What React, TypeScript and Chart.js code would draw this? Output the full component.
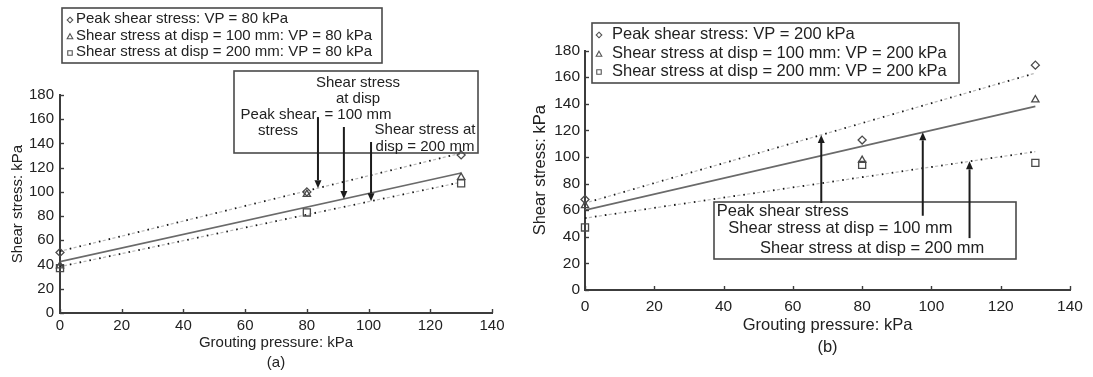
import React, { useEffect, useRef } from "react";
import { Chart, registerables } from "chart.js";

Chart.register(...registerables);

const FONT = "'Liberation Sans', Arial, Helvetica, sans-serif";
const INK = "#222222";
const AXIS = "#3c3c3c";

// Grouting pressure (kPa) at which each test was run
const pressure = [0, 80, 130];

// (a) vertical pressure VP = 80 kPa
const peakA = [50, 100, 130.5];
const disp100A = [39, 98, 112];
const disp200A = [37, 83, 107];

// (b) vertical pressure VP = 200 kPa
const peakB = [68, 112.7, 169];
const disp100B = [63.5, 97.5, 143];
const disp200B = [47, 94, 95.5];

// Trend lines, given by their values at the two ends of the pressure range
const fitX = [0, 130];
const peakFitA = [51, 132];
const disp100FitA = [42.4, 115.6];
const disp200FitA = [38.3, 108];
const peakFitB = [65.3, 163];
const disp100FitB = [60, 138];
const disp200FitB = [54, 104];

// Axis ranges
const xRange = [0, 140];
const yRange = [0, 180];
const xStep = 20;
const yStep = 20;

const legendA = [
  "Peak shear stress: VP = 80 kPa",
  "Shear stress at disp = 100 mm: VP = 80 kPa",
  "Shear stress at disp = 200 mm: VP = 80 kPa",
];
const legendB = [
  "Peak shear stress: VP = 200 kPa",
  "Shear stress at disp = 100 mm: VP = 200 kPa",
  "Shear stress at disp = 200 mm: VP = 200 kPa",
];

// Call-out arrows: pressure where each arrow sits and the stress where its tail starts
const arrowXA = [83.6, 92, 100.8];
const arrowTailA = [161.8, 153.6, 141.2];
const arrowXB = [68.2, 97.5, 111];
const arrowTailB = [65.4, 55.8, 39];

const xTitle = "Grouting pressure: kPa";
const yTitle = "Shear stress: kPa";

type Marker = "diamond" | "triangle" | "square";
type TextItem = { s: string; x: number; y: number; align: CanvasTextAlign };

type PanelSpec = {
  left: number;
  width: number;
  height: number;
  area: { left: number; top: number; right: number; bottom: number };
  tickSize: number;
  tickPadX: number;
  tickPadY: number;
  titleSize: number;
  xTitleY: number;
  captionY: number;
  caption: string;
  yTitleX: number;
  series: number[][];
  fits: number[][];
  legend: string[];
  legendBox: { x: number; y: number; w: number; h: number };
  legendMarkerX: number;
  legendTextX: number;
  legendRows: number[];
  legendSize: number;
  noteBox: { x: number; y: number; w: number; h: number };
  notes: TextItem[];
  noteSize: number;
  arrowX: number[];
  arrowTail: number[];
  arrowUp: boolean;
};

const markers: Marker[] = ["diamond", "triangle", "square"];
const chartStyles = ["rectRot", "triangle", "rect"];
const markerRadius = [4, 4.2, 5];

function fitAt(fit: number[], x: number) {
  const t = (x - fitX[0]) / (fitX[1] - fitX[0]);
  return fit[0] + (fit[1] - fit[0]) * t;
}

function lineSets(fit: number[], solid: boolean) {
  const data = fitX.map((x, i) => ({ x, y: fit[i] }));
  if (solid) {
    return [
      { data, showLine: true, pointRadius: 0, borderColor: "#6a6a6a", borderWidth: 1.6, order: 4 },
    ];
  }
  return [
    {
      data,
      showLine: true,
      pointRadius: 0,
      borderColor: "#b8b8b8",
      borderWidth: 1.2,
      borderDash: [3, 7],
      borderDashOffset: -4,
      order: 5,
    },
    {
      data,
      showLine: true,
      pointRadius: 0,
      borderColor: "#151515",
      borderWidth: 1.8,
      borderDash: [1.6, 8.4],
      order: 3,
    },
  ];
}

function markerSet(label: string, ys: number[], k: number) {
  return {
    label,
    data: pressure.map((x, i) => ({ x, y: ys[i] })),
    showLine: false,
    pointStyle: chartStyles[k],
    pointRadius: markerRadius[k],
    pointBorderWidth: 1.3,
    pointBorderColor: "#4a4a4a",
    pointBackgroundColor: "rgba(255,255,255,0)",
    clip: false,
    order: 1,
  };
}

function drawMarker(ctx: CanvasRenderingContext2D, m: Marker, x: number, y: number, r: number) {
  ctx.beginPath();
  if (m === "diamond") {
    ctx.moveTo(x, y - r);
    ctx.lineTo(x + r, y);
    ctx.lineTo(x, y + r);
    ctx.lineTo(x - r, y);
    ctx.closePath();
  } else if (m === "triangle") {
    ctx.moveTo(x, y - r);
    ctx.lineTo(x + r, y + r * 0.8);
    ctx.lineTo(x - r, y + r * 0.8);
    ctx.closePath();
  } else {
    ctx.rect(x - r * 0.8, y - r * 0.8, r * 1.6, r * 1.6);
  }
  ctx.stroke();
}

function drawText(ctx: CanvasRenderingContext2D, s: string, x: number, y: number, size: number, align: CanvasTextAlign) {
  ctx.font = `${size}px ${FONT}`;
  ctx.fillStyle = INK;
  ctx.textAlign = align;
  ctx.textBaseline = "middle";
  ctx.fillText(s, x, y);
}

function drawArrow(ctx: CanvasRenderingContext2D, x: number, yTail: number, yTip: number) {
  const dir = yTip > yTail ? 1 : -1;
  const head = 8;
  ctx.strokeStyle = "#1c1c1c";
  ctx.fillStyle = "#1c1c1c";
  ctx.lineWidth = 2;
  ctx.beginPath();
  ctx.moveTo(x, yTail);
  ctx.lineTo(x, yTip - dir * head);
  ctx.stroke();
  ctx.beginPath();
  ctx.moveTo(x, yTip);
  ctx.lineTo(x - 3.5, yTip - dir * head);
  ctx.lineTo(x + 3.5, yTip - dir * head);
  ctx.closePath();
  ctx.fill();
}

function decorPlugin(p: PanelSpec) {
  return {
    id: "panelDecor",
    afterDraw(chart: any) {
      const ctx: CanvasRenderingContext2D = chart.ctx;
      const xs = chart.scales.x;
      const ys = chart.scales.y;
      const a = chart.chartArea;
      ctx.save();

      // inward tick marks
      ctx.strokeStyle = AXIS;
      ctx.lineWidth = 1.4;
      xs.ticks.forEach((t: any) => {
        const px = Math.round(xs.getPixelForValue(t.value)) + 0.5;
        ctx.beginPath();
        ctx.moveTo(px, a.bottom);
        ctx.lineTo(px, a.bottom - 4);
        ctx.stroke();
      });
      ys.ticks.forEach((t: any) => {
        const py = Math.round(ys.getPixelForValue(t.value)) + 0.5;
        ctx.beginPath();
        ctx.moveTo(a.left, py);
        ctx.lineTo(a.left + 4, py);
        ctx.stroke();
      });

      // axis titles and panel caption
      const cx = (a.left + a.right) / 2;
      drawText(ctx, xTitle, cx, p.xTitleY, p.titleSize, "center");
      drawText(ctx, p.caption, cx, p.captionY, p.titleSize, "center");
      ctx.save();
      ctx.translate(p.yTitleX, (a.top + a.bottom) / 2);
      ctx.rotate(-Math.PI / 2);
      drawText(ctx, yTitle, 0, 0, p.titleSize, "center");
      ctx.restore();

      // legend
      const lb = p.legendBox;
      ctx.fillStyle = "#ffffff";
      ctx.fillRect(lb.x, lb.y, lb.w, lb.h);
      ctx.strokeStyle = "#4a4a4a";
      ctx.lineWidth = 1.6;
      ctx.strokeRect(lb.x, lb.y, lb.w, lb.h);
      p.legend.forEach((label, i) => {
        ctx.strokeStyle = "#555555";
        ctx.lineWidth = 1.1;
        drawMarker(ctx, markers[i], p.legendMarkerX, p.legendRows[i] + 1, 2.8);
        drawText(ctx, label, p.legendTextX, p.legendRows[i], p.legendSize, "left");
      });

      // call-out box with its labels
      const nb = p.noteBox;
      ctx.strokeStyle = "#4a4a4a";
      ctx.lineWidth = 1.6;
      ctx.strokeRect(nb.x, nb.y, nb.w, nb.h);
      p.notes.forEach((n) => drawText(ctx, n.s, n.x, n.y, p.noteSize, n.align));

      // arrows from the labels to the trend lines
      p.arrowX.forEach((x, i) => {
        const px = xs.getPixelForValue(x);
        const tail = ys.getPixelForValue(p.arrowTail[i]);
        const tip = ys.getPixelForValue(fitAt(p.fits[i], x));
        drawArrow(ctx, px, tail, tip);
      });
      ctx.restore();
    },
  };
}

function buildConfig(p: PanelSpec): any {
  const datasets: any[] = [
    ...lineSets(p.fits[0], false),
    ...lineSets(p.fits[1], true),
    ...lineSets(p.fits[2], false),
    ...p.series.map((ys, k) => markerSet(p.legend[k], ys, k)),
  ];
  const tickFont = { family: FONT, size: p.tickSize };
  const xHeight = p.height - p.area.bottom;
  return {
    type: "scatter",
    data: { datasets },
    options: {
      animation: false,
      responsive: false,
      devicePixelRatio: 1,
      events: [],
      layout: {
        padding: { left: 0, top: p.area.top, right: p.width - p.area.right, bottom: 0 },
      },
      plugins: { legend: { display: false }, tooltip: { enabled: false } },
      scales: {
        x: {
          type: "linear",
          min: xRange[0],
          max: xRange[1],
          ticks: {
            stepSize: xStep,
            font: tickFont,
            color: INK,
            padding: p.tickPadX,
            maxRotation: 0,
            autoSkip: false,
          },
          grid: { display: false, drawTicks: false },
          border: { display: true, color: AXIS, width: 2 },
          afterFit: (s: any) => {
            s.height = xHeight;
          },
        },
        y: {
          type: "linear",
          min: yRange[0],
          max: yRange[1],
          ticks: { stepSize: yStep, font: tickFont, color: INK, padding: p.tickPadY, autoSkip: false },
          grid: { display: false, drawTicks: false },
          border: { display: true, color: AXIS, width: 2 },
          afterFit: (s: any) => {
            s.width = p.area.left;
          },
        },
      },
    },
    plugins: [decorPlugin(p)],
  };
}

const panelA: PanelSpec = {
  left: 0,
  width: 520,
  height: 377,
  area: { left: 60, top: 95, right: 492, bottom: 313 },
  tickSize: 15,
  tickPadX: 4,
  tickPadY: 6,
  titleSize: 15,
  xTitleY: 343,
  captionY: 363,
  caption: "(a)",
  yTitleX: 18,
  series: [peakA, disp100A, disp200A],
  fits: [peakFitA, disp100FitA, disp200FitA],
  legend: legendA,
  legendBox: { x: 62, y: 8, w: 320, h: 55 },
  legendMarkerX: 70,
  legendTextX: 76,
  legendRows: [19, 35.5, 52],
  legendSize: 15,
  noteBox: { x: 234, y: 71, w: 244, h: 82 },
  notes: [
    { s: "Shear stress", x: 358, y: 83, align: "center" },
    { s: "at disp", x: 358, y: 99, align: "center" },
    { s: "= 100 mm", x: 358, y: 115, align: "center" },
    { s: "Peak shear", x: 278.5, y: 115, align: "center" },
    { s: "stress", x: 278, y: 131, align: "center" },
    { s: "Shear stress at", x: 425, y: 130, align: "center" },
    { s: "disp = 200 mm", x: 425, y: 147, align: "center" },
  ],
  noteSize: 15,
  arrowX: arrowXA,
  arrowTail: arrowTailA,
  arrowUp: false,
};

const panelB: PanelSpec = {
  left: 520,
  width: 573,
  height: 377,
  area: { left: 65, top: 50.5, right: 550, bottom: 290 },
  tickSize: 15.5,
  tickPadX: 7,
  tickPadY: 5,
  titleSize: 16.5,
  xTitleY: 325,
  captionY: 347,
  caption: "(b)",
  yTitleX: 20,
  series: [peakB, disp100B, disp200B],
  fits: [peakFitB, disp100FitB, disp200FitB],
  legend: legendB,
  legendBox: { x: 72, y: 23, w: 367, h: 60 },
  legendMarkerX: 79,
  legendTextX: 92,
  legendRows: [34, 53, 71],
  legendSize: 16.5,
  noteBox: { x: 194, y: 202, w: 302, h: 57 },
  notes: [
    { s: "Peak shear stress", x: 196.7, y: 211.7, align: "left" },
    { s: "Shear stress at disp = 100 mm", x: 208.3, y: 228.3, align: "left" },
    { s: "Shear stress at disp = 200 mm", x: 240, y: 248.3, align: "left" },
  ],
  noteSize: 16.5,
  arrowX: arrowXB,
  arrowTail: arrowTailB,
  arrowUp: true,
};

function PanelChart({ panel }: { panel: PanelSpec }) {
  const ref = useRef<HTMLCanvasElement>(null);
  useEffect(() => {
    if (!ref.current) return;
    const chart = new Chart(ref.current, buildConfig(panel));
    return () => chart.destroy();
  }, [panel]);
  return (
    <canvas
      ref={ref}
      width={panel.width}
      height={panel.height}
      style={{ position: "absolute", left: panel.left, top: 0, width: panel.width, height: panel.height }}
    />
  );
}

export default function App() {
  return (
    <div style={{ position: "absolute", left: 0, top: 0, width: 1093, height: 377, background: "#ffffff" }}>
      <PanelChart panel={panelA} />
      <PanelChart panel={panelB} />
    </div>
  );
}
